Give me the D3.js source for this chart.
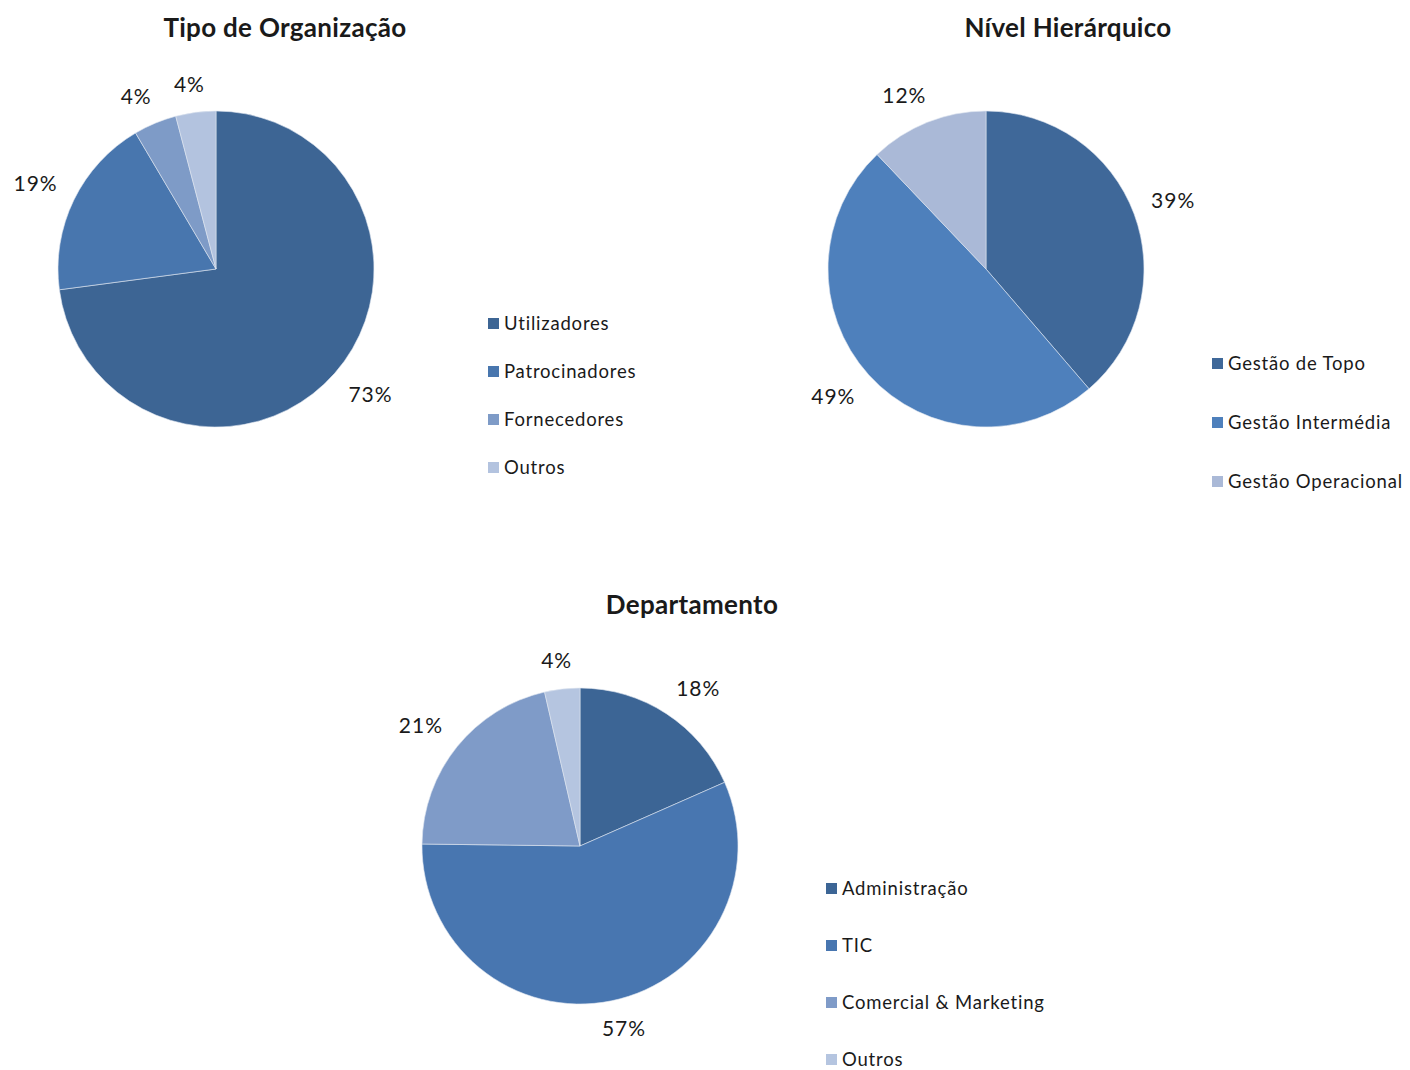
<!DOCTYPE html>
<html>
<head>
<meta charset="utf-8">
<script src="https://cdn.jsdelivr.net/npm/d3@7"></script>
<style>
  body { margin: 0; background: #fff; }
  svg text { font-family: Lato, "Noto Sans", sans-serif; fill: #1a1a1a; }
  .title { font-weight: bold; font-size: 26px; letter-spacing: 0.3px; }
  .pct { font-size: 21px; letter-spacing: 1px; }
  .legend { font-size: 18.5px; letter-spacing: 0.8px; }
</style>
</head>
<body>
<svg id="chart" width="1410" height="1070"></svg>
<script>
// Tipo de Organização
const orgLabels = ["Utilizadores", "Patrocinadores", "Fornecedores", "Outros"];
const orgValues = [72.9, 18.6, 4.4, 4.1];
const orgColors = ["#3d6594", "#4876ae", "#7e9bc7", "#b3c3df"];

// Nível Hierárquico
const nivelLabels = ["Gestão de Topo", "Gestão Intermédia", "Gestão Operacional"];
const nivelValues = [38.7, 49.2, 12.1];
const nivelColors = ["#3f6899", "#4e80bc", "#aab9d7"];

// Departamento
const deptLabels = ["Administração", "TIC", "Comercial & Marketing", "Outros"];
const deptValues = [18.4, 56.8, 21.2, 3.6];
const deptColors = ["#3c6595", "#4876b0", "#7f9bc8", "#b5c5e0"];

const svg = d3.select("#chart");
const pctFmt = d3.format(".0%");

const charts = [
  { title: "Tipo de Organização", labels: orgLabels, values: orgValues, colors: orgColors,
    cx: 216, cy: 269, titleX: 285, titleY: 37,
    legendX: 488, legendY: 324, legendStep: 48 },
  { title: "Nível Hierárquico", labels: nivelLabels, values: nivelValues, colors: nivelColors,
    cx: 986, cy: 269, titleX: 1068, titleY: 37,
    legendX: 1212, legendY: 364, legendStep: 59 },
  { title: "Departamento", labels: deptLabels, values: deptValues, colors: deptColors,
    cx: 580, cy: 846, titleX: 692, titleY: 614,
    legendX: 826, legendY: 889, legendStep: 57 }
];

const radius = 158;
const labelGap = 18;

charts.forEach(function (c) {
  const total = d3.sum(c.values);
  const data = c.labels.map((l, i) => ({ label: l, value: c.values[i] }));

  const color = d3.scaleOrdinal().domain(c.labels).range(c.colors);

  const pie = d3.pie().sort(null).value((d) => d.value);
  const arc = d3.arc().innerRadius(0).outerRadius(radius);

  // title
  svg.append("text")
    .attr("class", "title")
    .attr("x", c.titleX)
    .attr("y", c.titleY)
    .attr("text-anchor", "middle")
    .text(c.title);

  const g = svg.append("g")
    .attr("transform", `translate(${c.cx}, ${c.cy})`);

  const arcs = pie(data);

  g.selectAll("path")
    .data(arcs)
    .join("path")
    .attr("d", arc)
    .attr("fill", (d) => color(d.data.label))
    .attr("stroke", "#dfe6f0")
    .attr("stroke-width", 0.6);

  // percentage labels, placed just outside the slice like Excel's "outside end"
  const labels = g.selectAll("text.pct")
    .data(arcs)
    .join("text")
    .attr("class", "pct")
    .attr("text-anchor", "middle")
    .attr("dy", "0.35em")
    .text((d) => pctFmt(d.data.value / total));

  labels.attr("transform", function (d) {
    const a = (d.startAngle + d.endAngle) / 2;
    const ux = Math.sin(a), uy = -Math.cos(a);
    const w = this.getComputedTextLength(), h = 20;
    const clamp = (v) => Math.max(-1, Math.min(1, v));
    const x = (radius + labelGap) * ux + (w / 2) * clamp(ux * 2);
    const y = (radius + labelGap) * uy + (h / 2) * clamp(uy * 2);
    return `translate(${x}, ${y})`;
  });

  // legend
  const legend = svg.append("g")
    .attr("transform", `translate(${c.legendX}, ${c.legendY})`);

  const items = legend.selectAll("g")
    .data(c.labels)
    .join("g")
    .attr("transform", (d, i) => `translate(0, ${i * c.legendStep})`);

  items.append("rect")
    .attr("x", 0)
    .attr("y", -6)
    .attr("width", 11)
    .attr("height", 11)
    .attr("fill", (d) => color(d));

  items.append("text")
    .attr("class", "legend")
    .attr("x", 16)
    .attr("dy", "0.35em")
    .text((d) => d);
});
</script>
</body>
</html>
